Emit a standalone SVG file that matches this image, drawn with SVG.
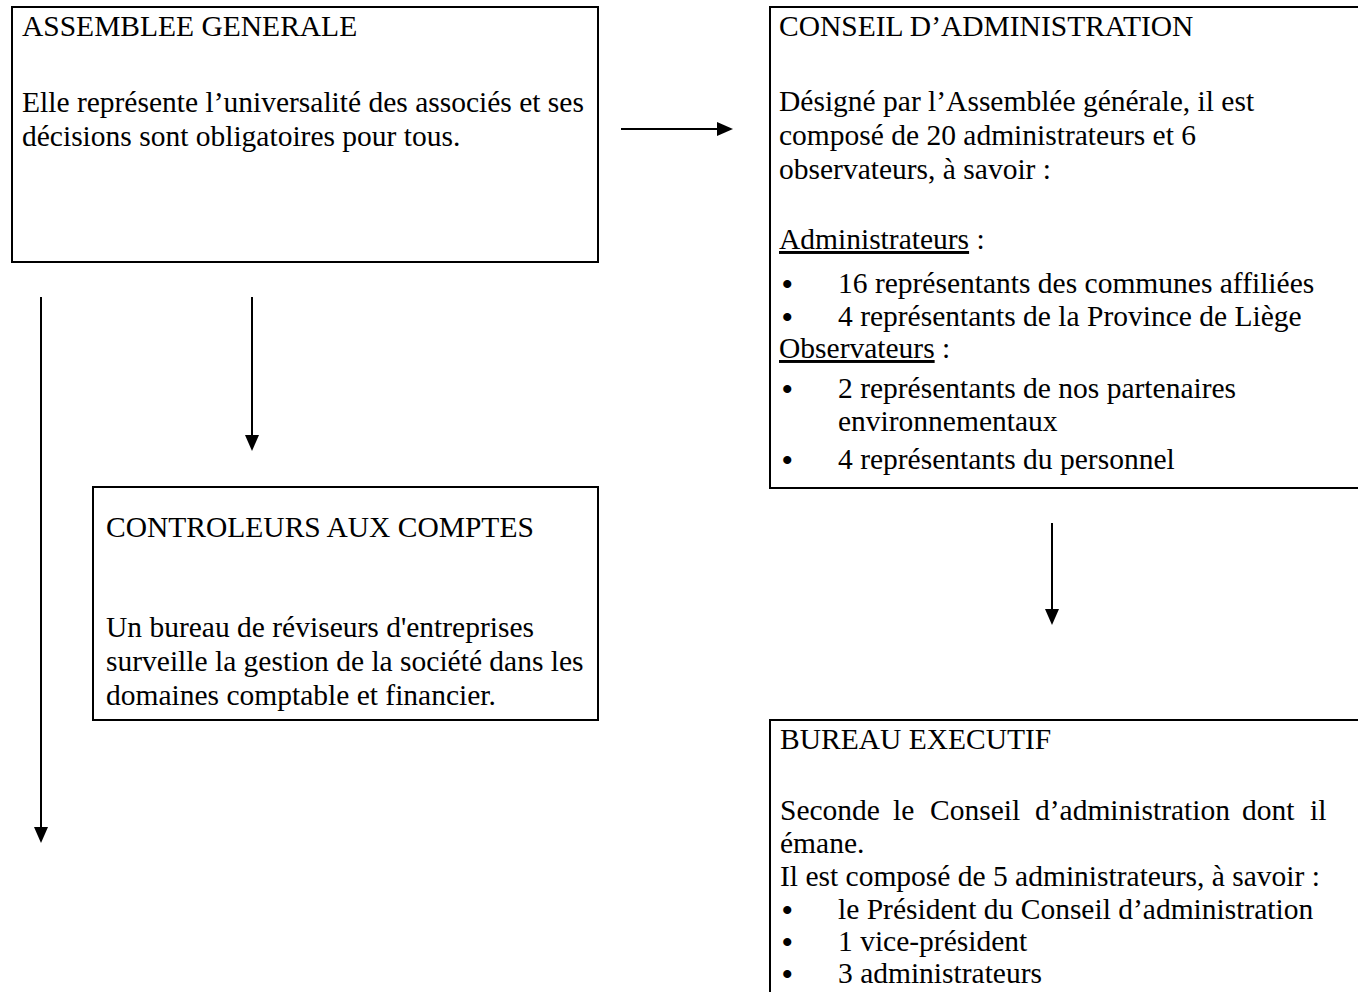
<svg xmlns="http://www.w3.org/2000/svg" width="1358" height="992" viewBox="0 0 1358 992">
<style>
.box{fill:#fff;stroke:#000;stroke-width:2}
.t{font-family:"Liberation Serif","Times New Roman",serif;font-size:29.5px;fill:#000}
.b{font-size:30px;font-weight:bold}
.u{text-decoration:underline}
.c{stroke:#000;stroke-width:2;fill:none;marker-end:url(#ah)}
</style>
<defs>
<marker id="ah" markerUnits="userSpaceOnUse" markerWidth="18" markerHeight="14" refX="4" refY="7" orient="auto" viewBox="0 0 18 14">
<path d="M0,0 L16,7 L0,14 z" fill="#000"/>
</marker>
</defs>
<rect width="1358" height="992" fill="#fff"/>
<g id="assemblee">
<rect class="box" x="12" y="7" width="586" height="255"/>
<text class="t" x="22" y="36">ASSEMBLEE GENERALE</text>
<text class="t" x="22" y="112">Elle représente l’universalité des associés et ses</text>
<text class="t" x="22" y="146">décisions sont obligatoires pour tous.</text>
</g>
<g id="conseil">
<rect class="box" x="770" y="7" width="600" height="481"/>
<text class="t" x="779" y="36">CONSEIL D’ADMINISTRATION</text>
<text class="t" x="779" y="111">Désigné par l’Assemblée générale, il est</text>
<text class="t" x="779" y="145">composé de 20 administrateurs et 6</text>
<text class="t" x="779" y="179">observateurs, à savoir :</text>
<text class="t" x="779" y="249"><tspan class="u">Administrateurs</tspan> :</text>
<text class="t" y="293"><tspan class="b" x="782" dy="1">•</tspan><tspan x="838" dy="-1">16 représentants des communes affiliées</tspan></text>
<text class="t" y="326"><tspan class="b" x="782" dy="1">•</tspan><tspan x="838" dy="-1">4 représentants de la Province de Liège</tspan></text>
<text class="t" x="779" y="358"><tspan class="u">Observateurs</tspan> :</text>
<text class="t" y="398"><tspan class="b" x="782" dy="1">•</tspan><tspan x="838" dy="-1">2 représentants de nos partenaires</tspan></text>
<text class="t" x="838" y="431">environnementaux</text>
<text class="t" y="469"><tspan class="b" x="782" dy="1">•</tspan><tspan x="838" dy="-1">4 représentants du personnel</tspan></text>
</g>
<g id="controleurs">
<rect class="box" x="93" y="487" width="505" height="233"/>
<text class="t" x="106" y="537">CONTROLEURS AUX COMPTES</text>
<text class="t" x="106" y="637">Un bureau de réviseurs d'entreprises</text>
<text class="t" x="106" y="671">surveille la gestion de la société dans les</text>
<text class="t" x="106" y="705">domaines comptable et financier.</text>
</g>
<g id="bureau">
<rect class="box" x="770" y="720" width="600" height="300"/>
<text class="t" x="780" y="749">BUREAU EXECUTIF</text>
<text class="t" y="820"><tspan x="780">Seconde</tspan><tspan x="893">le</tspan><tspan x="930">Conseil</tspan><tspan x="1035">d’administration</tspan><tspan x="1242">dont</tspan><tspan x="1310">il</tspan></text>
<text class="t" x="780" y="853">émane.</text>
<text class="t" x="780" y="886">Il est composé de 5 administrateurs, à savoir :</text>
<text class="t" y="919"><tspan class="b" x="782" dy="1">•</tspan><tspan x="838" dy="-1">le Président du Conseil d’administration</tspan></text>
<text class="t" y="951"><tspan class="b" x="782" dy="1">•</tspan><tspan x="838" dy="-1">1 vice-président</tspan></text>
<text class="t" y="983"><tspan class="b" x="782" dy="1">•</tspan><tspan x="838" dy="-1">3 administrateurs</tspan></text>
</g>
<g id="connectors">
<line class="c" x1="621" y1="129" x2="721" y2="129"/>
<line class="c" x1="252" y1="297" x2="252" y2="439"/>
<line class="c" x1="41" y1="297" x2="41" y2="831"/>
<line class="c" x1="1052" y1="523" x2="1052" y2="613"/>
</g>
</svg>
